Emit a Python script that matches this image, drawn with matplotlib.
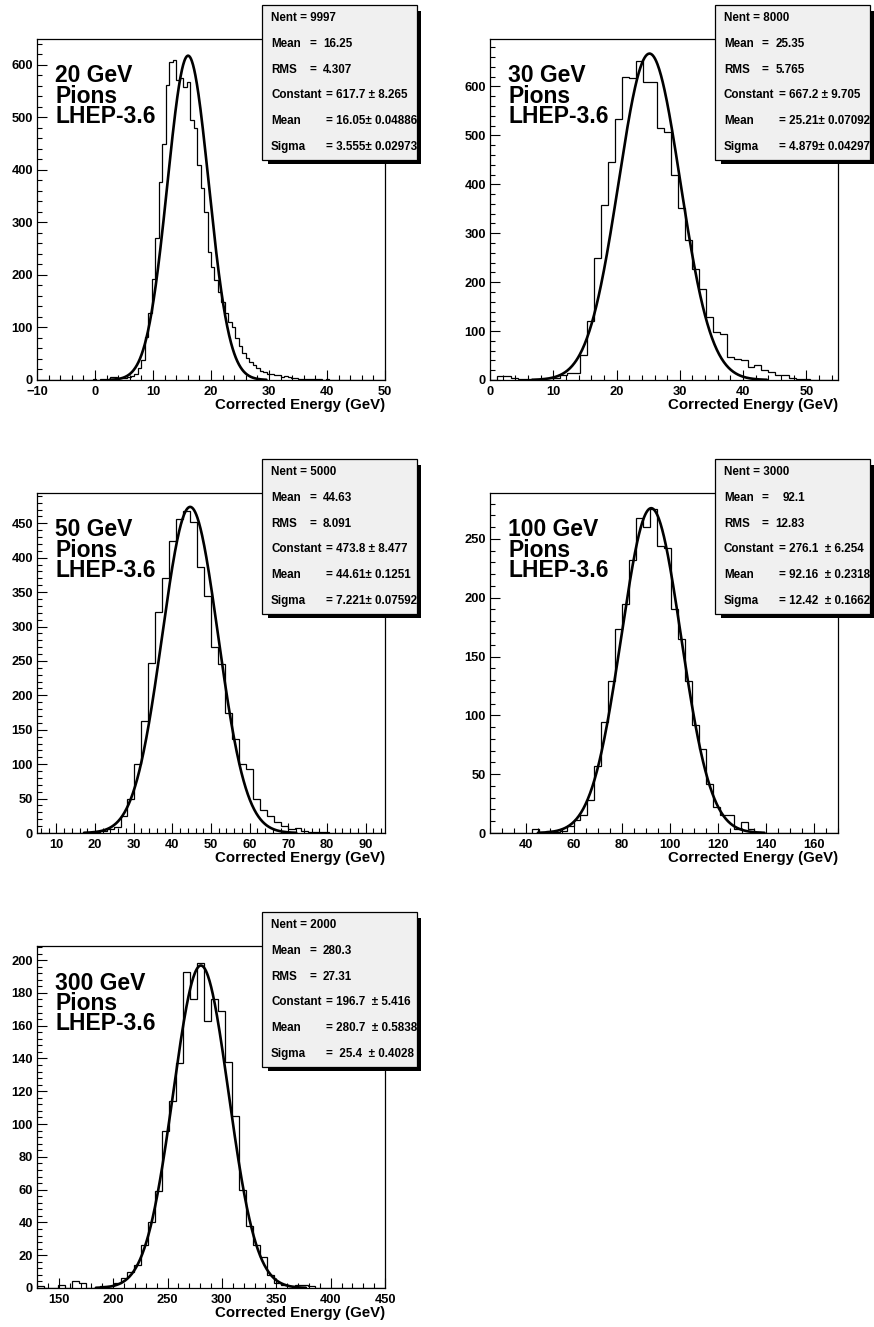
import numpy as np
import matplotlib
matplotlib.use('Agg')
import matplotlib.pyplot as plt
from matplotlib.patches import Rectangle
from matplotlib.ticker import MultipleLocator

W, H, DPI = 874, 1327, 100
plt.rcParams['font.family'] = ['Liberation Sans', 'DejaVu Sans']
plt.rcParams['font.weight'] = 'bold'

# ---------------- data ----------------
beam_labels = ['20 GeV', '30 GeV', '50 GeV', '100 GeV', '300 GeV']
x_lo = [-10, 0, 5, 25, 130]
x_hi = [50, 55, 95, 170, 450]
y_top = [649.5, 697, 494, 289, 208.6]

counts_20 = [0, 0, 0, 0, 0, 0, 0, 0, 0, 0,
             0, 0, 0, 0, 0, 0, 1, 0, 1, 1,
             2, 6, 5, 4, 3, 4, 6, 8, 12, 22,
             38, 82, 127, 192, 270, 378, 450, 562, 606, 610,
             572, 575, 559, 568, 496, 480, 410, 365, 320, 243,
             215, 190, 168, 149, 127, 111, 100, 80, 65, 52,
             42, 35, 28, 22, 18, 15, 12, 12, 9, 10,
             6, 8, 5, 4, 3, 2, 2, 1, 2, 1,
             1, 1, 0, 1, 0, 0, 0, 0, 0, 0,
             0, 0, 0, 0, 0, 0, 0, 0, 0, 0]
counts_30 = [0, 8, 8, 4, 2, 2, 1, 2, 1, 5,
             10, 14, 15, 51, 121, 250, 358, 445, 534, 620,
             617, 652, 610, 609, 516, 507, 418, 351, 286, 227,
             186, 128, 99, 94, 48, 42, 40, 27, 31, 20,
             16, 10, 11, 5, 2, 3, 1, 0, 0, 0]
counts_50 = [0, 0, 0, 0, 0, 0, 0, 0, 1, 3,
             6, 8, 25, 49, 100, 163, 247, 321, 371, 424,
             456, 468, 452, 386, 344, 270, 246, 174, 136, 100,
             93, 49, 34, 25, 16, 10, 6, 7, 3, 2,
             2, 1, 0, 0, 0, 0, 0, 0, 0, 0]
counts_100 = [0, 0, 0, 0, 0, 0, 3, 0, 2, 1,
              2, 6, 11, 15, 28, 57, 94, 129, 173, 195,
              232, 268, 260, 275, 244, 242, 190, 165, 129, 92,
              71, 42, 22, 15, 15, 3, 9, 3, 1, 0,
              0, 0, 0, 0, 0, 0, 0, 0, 0, 0]
counts_300 = [1, 0, 0, 2, 0, 4, 3, 0, 0, 1,
              1, 3, 6, 10, 14, 26, 40, 59, 96, 114,
              137, 193, 176, 198, 163, 176, 169, 138, 105, 60,
              38, 26, 19, 8, 3, 2, 1, 2, 2, 1,
              0, 0, 0, 0, 0, 0, 0, 0, 0, 0]
all_counts = [counts_20, counts_30, counts_50, counts_100, counts_300]

nent = ['9997', '8000', '5000', '3000', '2000']
hist_mean = ['16.25', '25.35', '44.63', '92.1', '280.3']
hist_rms = ['4.307', '5.765', '8.091', '12.83', '27.31']
fit_const = [617.7, 667.2, 473.8, 276.1, 196.7]
fit_mean = [16.05, 25.21, 44.61, 92.16, 280.7]
fit_sigma = [3.555, 4.879, 7.221, 12.42, 25.4]
const_txt = ['= 617.7 \u00b1 8.265', '= 667.2 \u00b1 9.705', '= 473.8 \u00b1 8.477',
             '= 276.1  \u00b1 6.254', '= 196.7  \u00b1 5.416']
mean_txt = ['= 16.05\u00b1 0.04886', '= 25.21\u00b1 0.07092', '= 44.61\u00b1 0.1251',
            '= 92.16  \u00b1 0.2318', '= 280.7  \u00b1 0.5838']
sigma_txt = ['= 3.555\u00b1 0.02973', '= 4.879\u00b1 0.04297', '= 7.221\u00b1 0.07592',
             '= 12.42  \u00b1 0.1662', '=  25.4  \u00b1 0.4028']

x_major = [10, 10, 10, 20, 50]
x_minor = [2, 2, 2, 5, 10]
y_major = [100, 100, 50, 50, 20]
y_minor = [20, 20, 10, 10, 4]

# ---------------- layout (pixels) ----------------
frames = [(37, 39, 385, 380), (490, 39, 838, 380),
          (37, 493, 385, 833), (490, 493, 838, 833),
          (37, 946, 385, 1288)]

fig = plt.figure(figsize=(W / DPI, H / DPI), dpi=DPI)
fig.patch.set_facecolor('white')


def fx(x):
    return x / W


def fy(y):
    return 1 - y / H


STAT_FS = 8.4

for i in range(5):
    l, t, r, b = frames[i]
    ax = fig.add_axes([fx(l), fy(b), (r - l) / W, (b - t) / H])
    counts = np.array(all_counts[i], dtype=float)
    edges = np.linspace(x_lo[i], x_hi[i], len(counts) + 1)
    ax.stairs(counts, edges, color='black', lw=0.9, baseline=0)
    xs = np.linspace(fit_mean[i] - 3.8 * fit_sigma[i], fit_mean[i] + 3.8 * fit_sigma[i], 400)
    ys = fit_const[i] * np.exp(-0.5 * ((xs - fit_mean[i]) / fit_sigma[i]) ** 2)
    ax.plot(xs, ys, color='black', lw=1.9, solid_capstyle='round')
    ax.set_xlim(x_lo[i], x_hi[i])
    ax.set_ylim(0, y_top[i])
    ax.xaxis.set_major_locator(MultipleLocator(x_major[i]))
    ax.xaxis.set_minor_locator(MultipleLocator(x_minor[i]))
    ax.yaxis.set_major_locator(MultipleLocator(y_major[i]))
    ax.yaxis.set_minor_locator(MultipleLocator(y_minor[i]))
    ax.tick_params(which='both', direction='in', top=False, right=False, width=0.8,
                   labelsize=9.3)
    ax.tick_params(which='major', length=7, pad=3)
    ax.tick_params(which='minor', length=3.5)
    ax.tick_params(axis='x', which='major', pad=4)
    for sp in ax.spines.values():
        sp.set_linewidth(0.9)
    for lab in ax.get_xticklabels() + ax.get_yticklabels():
        lab.set_fontweight('bold')

    # x axis title
    fig.text(fx(r), fy(b + 25), 'Corrected Energy (GeV)', ha='right', va='center',
             fontsize=10.8, fontweight='bold')

    # big label
    for j, s in enumerate([beam_labels[i], 'Pions', 'LHEP-3.6']):
        fig.text(fx(l + 18), fy(t + 43.5 + 20.3 * j), s, ha='left', va='baseline',
                 fontsize=16.5, fontweight='bold')

    # stats box
    bl, bt, bw, bh = l + 225, t - 34, 155, 155
    fig.add_artist(Rectangle((fx(bl + 6), fy(bt + bh + 4)), (bw - 2) / W, (bh - 2) / H,
                             transform=fig.transFigure, facecolor='black',
                             edgecolor='none', zorder=4))
    fig.add_artist(Rectangle((fx(bl), fy(bt + bh)), bw / W, bh / H,
                             transform=fig.transFigure, facecolor='#f0f0f0',
                             edgecolor='black', lw=0.9, zorder=5))
    step = bh / 6.0
    rows = [('Nent = ' + nent[i], None, None),
            ('Mean', '=', hist_mean[i]),
            ('RMS', '=', hist_rms[i]),
            ('Constant', const_txt[i], None),
            ('Mean', mean_txt[i], None),
            ('Sigma', sigma_txt[i], None)]
    for k, (a, bpart, c) in enumerate(rows):
        yc = fy(bt + (k + 0.5) * step)
        fig.text(fx(bl + 9), yc, a, ha='left', va='center', fontsize=STAT_FS,
                 fontweight='bold', zorder=6)
        if k in (1, 2):
            fig.text(fx(bl + 47), yc, bpart, ha='left', va='center', fontsize=STAT_FS,
                     fontweight='bold', zorder=6)
            fig.text(fx(bl + 90), yc, c, ha='right', va='center', fontsize=STAT_FS,
                     fontweight='bold', zorder=6)
        elif k >= 3:
            fig.text(fx(bl + 64), yc, bpart, ha='left', va='center', fontsize=STAT_FS,
                     fontweight='bold', zorder=6)

fig.savefig('out.png', dpi=DPI, facecolor='white')
